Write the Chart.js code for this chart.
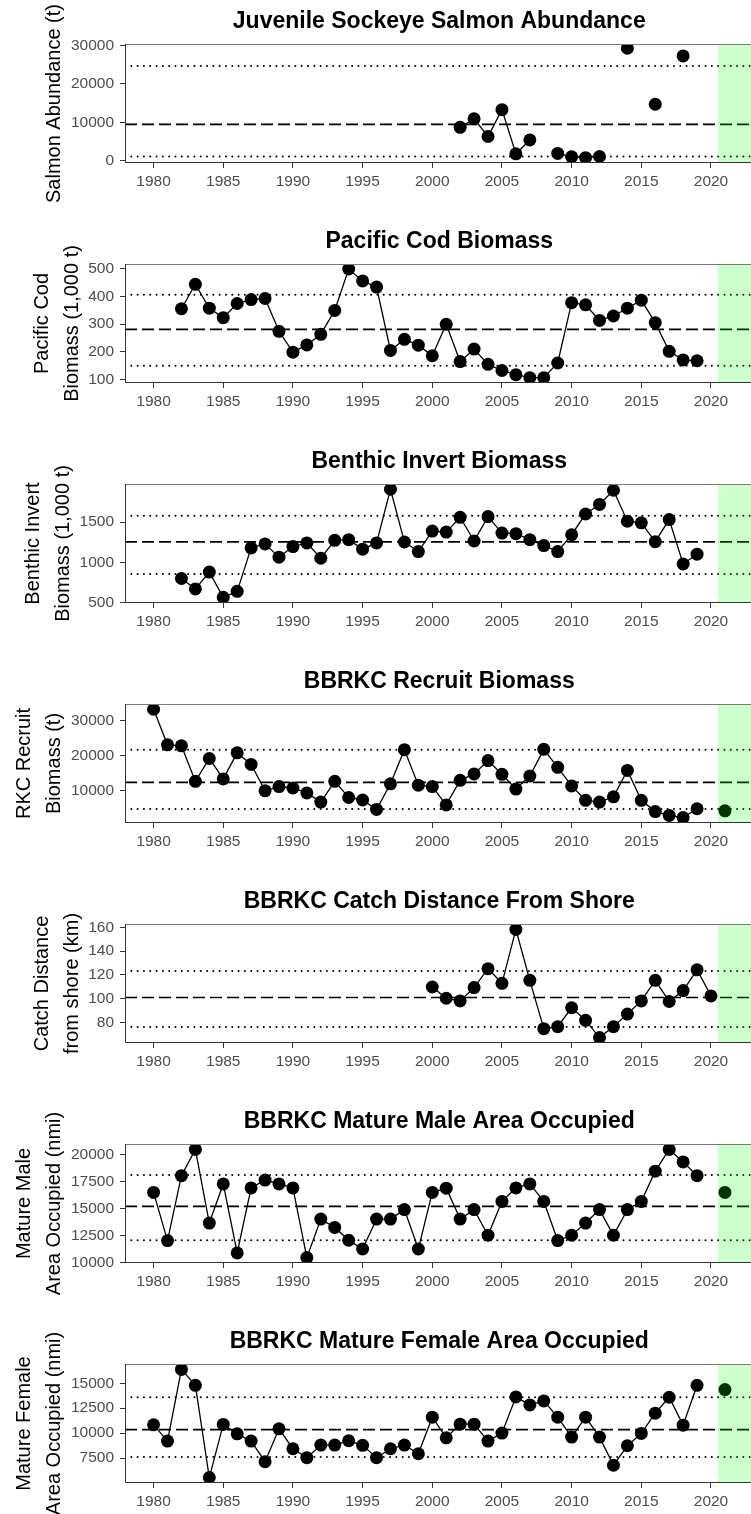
<!DOCTYPE html>
<html>
<head>
<meta charset="utf-8">
<script src="https://cdn.jsdelivr.net/npm/chart.js@4.4.0/dist/chart.umd.min.js"></script>
<style>
  html, body { margin: 0; padding: 0; background: #fff; overflow: hidden; width: 751px; height: 1514px; position: relative; }
  canvas { position: absolute; left: 0; }
</style>
</head>
<body>
<script>
// shared x axis
const xTicks = [1980, 1985, 1990, 1995, 2000, 2005, 2010, 2015, 2020];
const xMin = 1977.95, xMax = 2023.05;
const bandStart = 2020.5;

// Juvenile sockeye salmon abundance (t)
const salmonYears = [2002, 2003, 2004, 2005, 2006, 2007, 2008, 2009, 2010, 2011, 2012, 2013, 2014, 2015, 2016, 2017, 2018];
const salmonValues = [8700, 10900, 6300, 13300, 1800, 5400, null, 1900, 1000, 800, 1100, null, 29300, null, 14700, null, 27300];
const salmonTicks = [0, 10000, 20000, 30000];
const salmonRefs = [24700, 9450, 1100]; // upper, mean, lower

// Pacific cod biomass (1,000 t)
const codYears = [1982, 1983, 1984, 1985, 1986, 1987, 1988, 1989, 1990, 1991, 1992, 1993, 1994, 1995, 1996, 1997, 1998, 1999, 2000,
  2001, 2002, 2003, 2004, 2005, 2006, 2007, 2008, 2009, 2010, 2011, 2012, 2013, 2014, 2015, 2016, 2017, 2018, 2019];
const codValues = [355, 443, 357, 323, 374, 388, 392, 274, 199, 225, 263, 349, 498, 455, 433, 205, 245, 224, 186,
  299, 165, 210, 155, 133, 118, 107, 107, 160, 377, 369, 313, 329, 357, 386, 305, 202, 171, 168];
const codTicks = [100, 200, 300, 400, 500];
const codRefs = [405, 281, 150];

// Benthic invert biomass (1,000 t)
const benthicYears = codYears;
const benthicValues = [800, 670, 880, 565, 640, 1180, 1230, 1065, 1197, 1242, 1053, 1275, 1283, 1164, 1242, 1910, 1254, 1135, 1389,
  1377, 1561, 1266, 1570, 1365, 1357, 1283, 1209, 1135, 1344, 1602, 1721, 1897, 1512, 1492, 1258, 1533, 980, 1102];
const benthicTicks = [500, 1000, 1500];
const benthicRefs = [1580, 1255, 855];

// BBRKC recruit biomass (t)
const recruitYears = [1980, 1981, 1982, 1983, 1984, 1985, 1986, 1987, 1988, 1989, 1990, 1991, 1992, 1993, 1994, 1995, 1996, 1997, 1998, 1999,
  2000, 2001, 2002, 2003, 2004, 2005, 2006, 2007, 2008, 2009, 2010, 2011, 2012, 2013, 2014, 2015, 2016, 2017, 2018, 2019, 2020, 2021];
const recruitValues = [33200, 23100, 22800, 12700, 19200, 13400, 20800, 17500, 10000, 11200, 10800, 9400, 6800, 12700, 8100, 7400, 4700, 12000, 21700, 11600,
  11200, 6000, 13000, 14800, 18600, 14700, 10500, 14200, 21800, 16700, 11400, 7300, 6800, 8300, 15800, 7300, 4100, 3000, 2400, 4900, null, 4300];
const recruitTicks = [10000, 20000, 30000];
const recruitRefs = [21700, 12400, 4800];

// BBRKC catch distance from shore (km)
const distanceYears = [2000, 2001, 2002, 2003, 2004, 2005, 2006, 2007, 2008, 2009, 2010, 2011, 2012, 2013, 2014, 2015, 2016, 2017, 2018, 2019, 2020];
const distanceValues = [109.8, 100.3, 98.1, 109.3, 125.2, 112.9, 158.3, 115.4, 74.7, 76.4, 92.3, 81.7, 67.2, 76.4, 87.0, 98.1, 115.4, 97.6, 106.8, 124.3, 102.3];
const distanceTicks = [80, 100, 120, 140, 160];
const distanceRefs = [123.2, 101, 76.1];

// BBRKC mature male area occupied (nmi)
const maleYears = recruitYears;
const maleValues = [16470, 12010, 18020, 20460, 13630, 17260, 10860, 16890, 17620, 17260, 16890, 10430, 14000, 13230, 12040, 11230, 14000, 14000, 14880, 11230,
  16470, 16870, 14000, 14880, 12500, 15640, 16890, 17260, 15640, 12010, 12500, 13630, 14880, 12500, 14880, 15640, 18440, 20460, 19300, 18020, null, 16470];
const maleTicks = [10000, 12500, 15000, 17500, 20000];
const maleRefs = [18080, 15180, 12040];

// BBRKC mature female area occupied (nmi)
const femaleYears = recruitYears;
const femaleValues = [10830, 9200, 16400, 14800, 5530, 10870, 9930, 9200, 7130, 10430, 8430, 7530, 8800, 8800, 9230, 8770, 7530, 8430, 8800, 7930,
  11600, 9530, 10900, 10900, 9200, 10000, 13630, 12830, 13230, 11600, 9600, 11600, 9600, 6770, 8730, 9970, 12000, 13600, 10800, 14800, null, 14370];
const femaleTicks = [7500, 10000, 12500, 15000];
const femaleRefs = [13600, 10350, 7600];

const panels = [
  { title: "Juvenile Sockeye Salmon Abundance", yTitle: ["Salmon Abundance (t)"], years: salmonYears, values: salmonValues, ticks: salmonTicks, refs: salmonRefs, yMin: -600, yMax: 30400 },
  { title: "Pacific Cod Biomass", yTitle: ["Pacific Cod", "Biomass (1,000 t)"], years: codYears, values: codValues, ticks: codTicks, refs: codRefs, yMin: 88, yMax: 516 },
  { title: "Benthic Invert Biomass", yTitle: ["Benthic Invert", "Biomass (1,000 t)"], years: benthicYears, values: benthicValues, ticks: benthicTicks, refs: benthicRefs, yMin: 495, yMax: 1975 },
  { title: "BBRKC Recruit Biomass", yTitle: ["RKC Recruit", "Biomass (t)"], years: recruitYears, values: recruitValues, ticks: recruitTicks, refs: recruitRefs, yMin: 850, yMax: 34700 },
  { title: "BBRKC Catch Distance From Shore", yTitle: ["Catch Distance", "from shore (km)"], years: distanceYears, values: distanceValues, ticks: distanceTicks, refs: distanceRefs, yMin: 62.6, yMax: 162.9 },
  { title: "BBRKC Mature Male Area Occupied", yTitle: ["Mature Male", "Area Occupied (nmi)"], years: maleYears, values: maleValues, ticks: maleTicks, refs: maleRefs, yMin: 9930, yMax: 20960 },
  { title: "BBRKC Mature Female Area Occupied", yTitle: ["Mature Female", "Area Occupied (nmi)"], years: femaleYears, values: femaleValues, ticks: femaleTicks, refs: femaleRefs, yMin: 4990, yMax: 16940 }
];

const FONT = '"Liberation Sans", Arial, sans-serif';
const tickFont = { family: FONT, size: 15.5 };

// band, border and text drawn per panel
const decor = {
  id: "decor",
  afterDatasetsDraw(chart, args, opts) {
    const ctx = chart.ctx, ca = chart.chartArea, p = opts.panel;
    const xb = chart.scales.x.getPixelForValue(bandStart);
    ctx.save();
    ctx.fillStyle = "rgba(0,255,0,0.2)";
    ctx.fillRect(xb, ca.top, ca.right - xb, ca.bottom - ca.top);
    ctx.strokeStyle = "#7a7a7a";
    ctx.lineWidth = 1;
    ctx.strokeRect(ca.left + 0.5, ca.top + 0.5, ca.right - ca.left - 1, ca.bottom - ca.top - 1);
    ctx.strokeStyle = "#333";
    ctx.beginPath();
    ctx.moveTo(ca.left + 0.5, ca.top);
    ctx.lineTo(ca.left + 0.5, ca.bottom - 0.5);
    ctx.lineTo(ca.right, ca.bottom - 0.5);
    ctx.stroke();

    ctx.fillStyle = "#000";
    ctx.textAlign = "center";
    ctx.textBaseline = "middle";
    ctx.font = "bold 23px " + FONT;
    ctx.fillText(p.title, (ca.left + ca.right) / 2, ca.top - 22);

    ctx.font = "15.5px " + FONT;
    let widest = 0;
    p.ticks.forEach(t => { widest = Math.max(widest, ctx.measureText(String(t)).width); });
    const nearX = ca.left - 11 - widest - 16;
    ctx.font = "20px " + FONT;
    const yc = (ca.top + ca.bottom) / 2;
    const n = p.yTitle.length;
    p.yTitle.forEach((line, i) => {
      ctx.save();
      ctx.translate(nearX - (n - 1 - i) * 30, yc);
      ctx.rotate(-Math.PI / 2);
      ctx.fillText(line, 0, 0);
      ctx.restore();
    });
    ctx.restore();
  }
};

panels.forEach((p, k) => {
  const c = document.createElement("canvas");
  c.width = 760;
  c.height = 260;
  c.style.top = (220 * k - 20) + "px";
  c.style.width = "760px";
  c.style.height = "260px";
  document.body.appendChild(c);

  const datasets = [{
    data: p.years.map((y, i) => ({ x: y, y: p.values[i] })),
    borderColor: "#000",
    backgroundColor: "#000",
    borderWidth: 1.3,
    pointRadius: 6.5,
    pointBorderWidth: 0,
    spanGaps: false,
    clip: 0
  }];
  p.refs.forEach((v, i) => {
    const dashed = i === 1;
    datasets.push({
      data: [{ x: xMin, y: v }, { x: xMax, y: v }],
      borderColor: "#000",
      borderWidth: dashed ? 1.6 : 2,
      borderDash: dashed ? [12, 5] : [0.01, 6.3],
      borderCapStyle: dashed ? "butt" : "round",
      pointRadius: 0
    });
  });

  new Chart(c, {
    type: "line",
    data: { datasets },
    plugins: [decor],
    options: {
      responsive: false,
      animation: false,
      events: [],
      layout: { padding: { left: 0, right: 4, top: 64, bottom: 0 } },
      plugins: { legend: { display: false }, tooltip: { enabled: false }, decor: { panel: p } },
      scales: {
        x: {
          type: "linear", min: xMin, max: xMax,
          afterBuildTicks: s => { s.ticks = xTicks.map(v => ({ value: v })); },
          afterFit: s => { s.height = 77; },
          grid: { drawOnChartArea: false, drawTicks: true, tickLength: 5, color: "#333" },
          border: { display: false },
          ticks: { color: "#4d4d4d", font: tickFont, padding: 4, maxRotation: 0, autoSkip: false, callback: v => String(v) }
        },
        y: {
          type: "linear", min: p.yMin, max: p.yMax,
          afterBuildTicks: s => { s.ticks = p.ticks.map(v => ({ value: v })); },
          afterFit: s => { s.width = 125; },
          grid: { drawOnChartArea: false, drawTicks: true, tickLength: 5, color: "#333" },
          border: { display: false },
          ticks: { color: "#4d4d4d", font: tickFont, padding: 6, autoSkip: false, callback: v => String(v) }
        }
      }
    }
  });
});
</script>
</body>
</html>
